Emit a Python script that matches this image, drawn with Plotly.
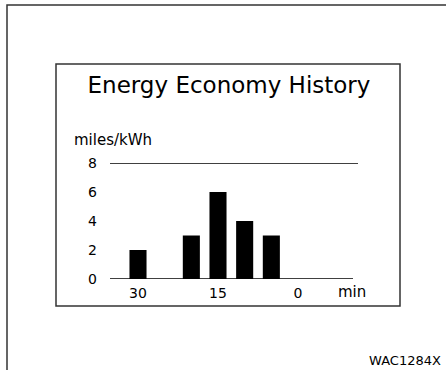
import plotly.graph_objects as go

# data
minutes = [30, 20, 15, 10, 5]
economy = [2, 3, 6, 4, 3]
y_ticks = [0, 2, 4, 6, 8]
x_ticks = [30, 15, 0]
x_labels = ["30", "15", "0"]

FONT = "DejaVu Sans"
INK = "#000000"

# plot area in pixels: x 110..358, y 163..279
L, R, T, B = 110, 358, 163, 279
W, H = 446, 370


def px(x):
    return (x - L) / (R - L)


def py(y):
    return (B - y) / (B - T)


fig = go.Figure()
fig.add_trace(go.Bar(x=minutes, y=economy, width=3.2,
                     marker=dict(color=INK, line=dict(width=0))))

fig.update_layout(
    width=W, height=H,
    margin=dict(l=L, r=W - R, t=T, b=H - B),
    paper_bgcolor="white", plot_bgcolor="white",
    showlegend=False,
    font=dict(family=FONT, color=INK, size=14),
    title=dict(text="Energy Economy History", x=229 / W, y=1 - 85 / H,
               xanchor="center", yanchor="middle",
               font=dict(family=FONT, size=23, color=INK)),
    xaxis=dict(range=[35.25, -11.25], tickvals=x_ticks, ticktext=x_labels,
               showgrid=False, zeroline=False, showline=False, ticks="",
               ticklabelstandoff=4, tickfont=dict(size=14)),
    yaxis=dict(range=[0, 8], tickvals=y_ticks, showgrid=False, zeroline=False,
               showline=False, ticks="", ticklabelstandoff=12,
               tickfont=dict(size=14)),
)

# baseline and top line
fig.add_shape(type="line", xref="paper", yref="y", x0=0, x1=px(353), y0=0, y1=0,
              line=dict(color=INK, width=1.5))
fig.add_shape(type="line", xref="paper", yref="y", x0=0, x1=1, y0=8, y1=8,
              line=dict(color=INK, width=1.5))

# inner frame
fig.add_shape(type="rect", xref="paper", yref="paper",
              x0=px(56), x1=px(400), y0=py(306), y1=py(64),
              line=dict(color="#333333", width=1.5))
# outer frame
fig.add_shape(type="rect", xref="paper", yref="paper",
              x0=px(7), x1=px(450), y0=py(375), y1=py(5),
              line=dict(color="#333333", width=1.5))

fig.add_annotation(text="miles/kWh", xref="paper", yref="paper",
                   x=px(72), y=py(140), xanchor="left", yanchor="middle",
                   showarrow=False, font=dict(size=15))
fig.add_annotation(text="min", xref="paper", yref="paper",
                   x=px(352), y=py(292), xanchor="center", yanchor="middle",
                   showarrow=False, font=dict(size=15))
fig.add_annotation(text="WAC1284X", xref="paper", yref="paper",
                   x=px(443), y=py(360), xanchor="right", yanchor="middle",
                   showarrow=False, font=dict(size=13))

# page body has an 8px default margin; drop it so the figure sits at 0,0
fig.write_html("out.html", config={"displayModeBar": False},
               post_script="document.body.style.margin='0';")
